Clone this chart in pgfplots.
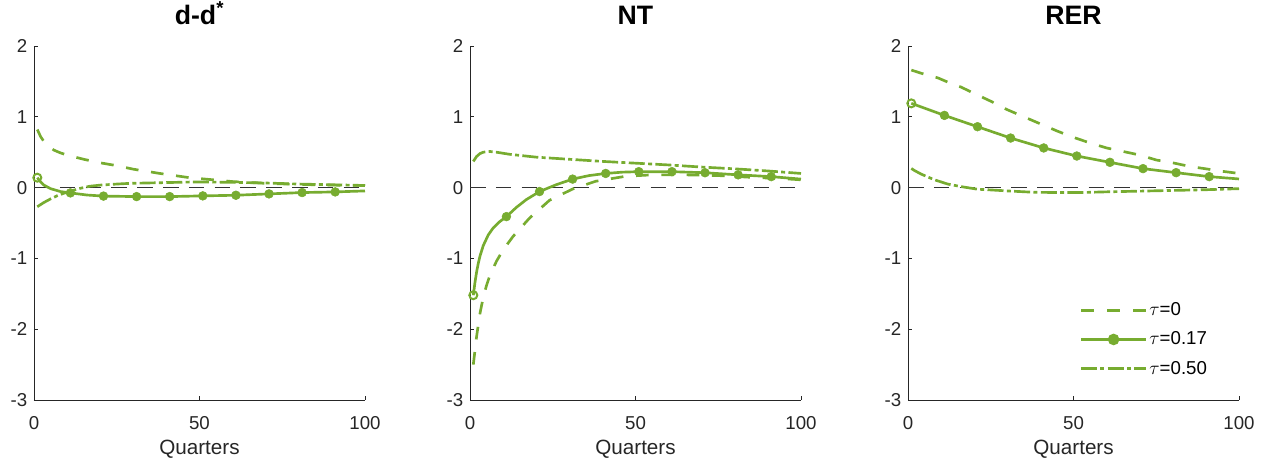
\documentclass[border=0pt]{standalone}
\usepackage{pgfplots}
\pgfplotsset{compat=1.18}
\usepackage{fontspec}
\setmainfont{Liberation Sans}
\definecolor{mgreen}{RGB}{119,172,48}
\definecolor{axgray}{RGB}{38,38,38}
\pgfplotsset{
  myaxis/.style={
    scale only axis, width=248.25pt, height=265.5pt,
    xmin=0, xmax=100, ymin=-3, ymax=2,
    xtick={0,50,100}, xticklabels={0,50,100},
    ytick={-3,-2,-1,0,1,2}, yticklabels={-3,-2,-1,0,1,2},
    axis x line=bottom, axis y line=left,
    axis line style={-, axgray, line width=0.6pt},
    tick align=inside, major tick length=3pt,
    tick style={axgray, line width=0.6pt},
    ticklabel style={font=\fontsize{14}{16}\selectfont, text=axgray},
    xticklabel style={anchor=base, yshift=-22pt},
    yticklabel style={anchor=east, xshift=-1.5pt},
    /pgf/number format/assume math mode=true,
    xlabel={Quarters},
    xlabel style={font=\fontsize{15.5}{18}\selectfont, text=axgray, at={(axis description cs:0.5,0)}, anchor=base, yshift=-41.25pt},
    title style={font=\fontsize{20}{23}\selectfont\bfseries, at={(axis description cs:0.5,1)}, anchor=base, yshift=9.75pt},
    clip=false,
  },
  zeroline/.style={black!80, line width=0.9pt, dash pattern=on 11.75pt off 7.6pt, forget plot},
  tau0/.style={mgreen, line width=2pt, dash pattern=on 9.5pt off 9.5pt},
  tau17/.style={mgreen, line width=2pt},
  tau50/.style={mgreen, line width=2pt, dash pattern=on 12pt off 2.5pt on 3pt off 2.5pt},
  mk/.style={mgreen, only marks, mark=*, mark size=3.3pt, forget plot},
  mkopen/.style={mgreen, only marks, mark=o, mark size=3pt, line width=1.5pt, forget plot},
}
\begin{document}
\begin{tikzpicture}
% ---------- d-d* ----------
\begin{axis}[myaxis, at={(0pt,0pt)}, title={d-d\textsuperscript{*}}]
\addplot[zeroline] coordinates {(0,0) (100,0)};
\addplot[tau0] coordinates {(1,0.82)(2,0.72)(3,0.65)(4,0.60)(6,0.53)(8,0.49)(10,0.46)(15,0.40)(20,0.35)(25,0.31)(30,0.26)(38,0.20)(47,0.14)(53,0.115)(60,0.085)(70,0.06)(80,0.045)(90,0.035)(100,0.03)};
\addplot[tau17] coordinates {(1,0.14)(2,0.08)(3,0.035)(5,-0.015)(8,-0.056)(11,-0.075)(16,-0.105)(21,-0.12)(31,-0.127)(41,-0.127)(51,-0.117)(61,-0.108)(71,-0.089)(81,-0.07)(91,-0.061)(100,-0.047)};
\addplot[mk] coordinates {(11,-0.075)(21,-0.12)(31,-0.127)(41,-0.127)(51,-0.117)(61,-0.108)(71,-0.089)(81,-0.07)(91,-0.061)};
\addplot[mkopen] coordinates {(1,0.14)};
\addplot[tau50] coordinates {(1,-0.27)(3,-0.21)(5,-0.16)(7,-0.115)(9,-0.08)(11,-0.05)(14,-0.01)(17,0.02)(20,0.035)(25,0.05)(29,0.06)(39,0.07)(49,0.08)(60,0.075)(70,0.065)(80,0.05)(90,0.04)(100,0.03)};
\end{axis}
% ---------- NT ----------
\begin{axis}[myaxis, at={(327pt,0pt)}, title={NT}]
\addplot[zeroline] coordinates {(0,0) (100,0)};
\addplot[tau0] coordinates {(1,-2.5)(2,-2.1)(3,-1.78)(4,-1.55)(5,-1.38)(6,-1.24)(8,-1.04)(10,-0.88)(13,-0.69)(18,-0.43)(24,-0.18)(31,-0.02)(38,0.09)(47,0.16)(55,0.18)(65,0.18)(75,0.17)(85,0.145)(95,0.125)(100,0.11)};
\addplot[tau17] coordinates {(1,-1.52)(1.5,-1.34)(2,-1.19)(2.5,-1.07)(3,-0.97)(4,-0.82)(5.5,-0.67)(7,-0.57)(9,-0.48)(11,-0.41)(14,-0.28)(17,-0.17)(21,-0.056)(26,0.04)(31,0.12)(36,0.17)(41,0.20)(46,0.218)(51,0.225)(61,0.225)(71,0.21)(81,0.18)(91,0.155)(100,0.12)};
\addplot[mk] coordinates {(11,-0.41)(21,-0.056)(31,0.12)(41,0.20)(51,0.225)(61,0.225)(71,0.21)(81,0.18)(91,0.155)};
\addplot[mkopen] coordinates {(1,-1.52)};
\addplot[tau50] coordinates {(1,0.37)(2,0.44)(3,0.48)(4,0.50)(6,0.51)(8,0.50)(12,0.47)(16,0.45)(20,0.43)(30,0.40)(40,0.37)(50,0.345)(60,0.32)(70,0.29)(80,0.265)(90,0.235)(100,0.20)};
\end{axis}
% ---------- RER ----------
\begin{axis}[myaxis, at={(655.5pt,0pt)}, title={RER},
  legend style={draw=none, fill=none, at={(axis description cs:0.714,0.171)}, anchor=center,
    font=\fontsize{14}{16}\selectfont, row sep=7.5pt, inner sep=0pt,
    nodes={inner sep=1.5pt}},
  legend cell align=left]
\addplot[zeroline] coordinates {(0,0) (100,0)};
\addplot[tau0, legend image code/.code={\draw[mgreen, line width=2pt, dash pattern=on 9.75pt off 9.75pt] (0pt,0pt) -- (48.75pt,0pt);}]
  coordinates {(1,1.66)(5,1.60)(9,1.55)(12,1.49)(16,1.42)(20,1.33)(25,1.22)(30,1.10)(35,1.00)(40,0.90)(45,0.80)(50,0.71)(55,0.63)(60,0.56)(65,0.51)(70,0.46)(75,0.39)(80,0.35)(85,0.30)(90,0.265)(95,0.23)(100,0.20)};
\addlegendentry{$\tau$=0}
\addplot[tau17, legend image code/.code={\draw[mgreen, line width=2pt] (0pt,0pt) -- (48.75pt,0pt); \fill[mgreen] (24.4pt,0pt) circle (3.3pt);}]
  coordinates {(1,1.19)(11,1.02)(21,0.86)(31,0.70)(41,0.56)(51,0.446)(61,0.357)(71,0.268)(81,0.211)(91,0.155)(100,0.122)};
\addlegendentry{$\tau$=0.17}
\addplot[mk] coordinates {(11,1.02)(21,0.86)(31,0.70)(41,0.56)(51,0.446)(61,0.357)(71,0.268)(81,0.211)(91,0.155)};
\addplot[mkopen] coordinates {(1,1.19)};
\addplot[tau50, legend image code/.code={\draw[mgreen, line width=2pt, dash pattern=on 12pt off 2.5pt on 3pt off 2.5pt] (0pt,0pt) -- (48.75pt,0pt);}]
  coordinates {(1,0.27)(2,0.24)(4,0.19)(6,0.15)(8,0.11)(10,0.08)(12,0.05)(16,0.014)(21,-0.023)(25,-0.033)(30,-0.047)(38,-0.066)(46,-0.07)(52,-0.07)(60,-0.06)(70,-0.05)(80,-0.04)(90,-0.03)(100,-0.015)};
\addlegendentry{$\tau$=0.50}
\end{axis}
\pgfresetboundingbox
\useasboundingbox (-25.5pt,-49.5pt) rectangle (924pt,300pt);
\end{tikzpicture}
\end{document}
